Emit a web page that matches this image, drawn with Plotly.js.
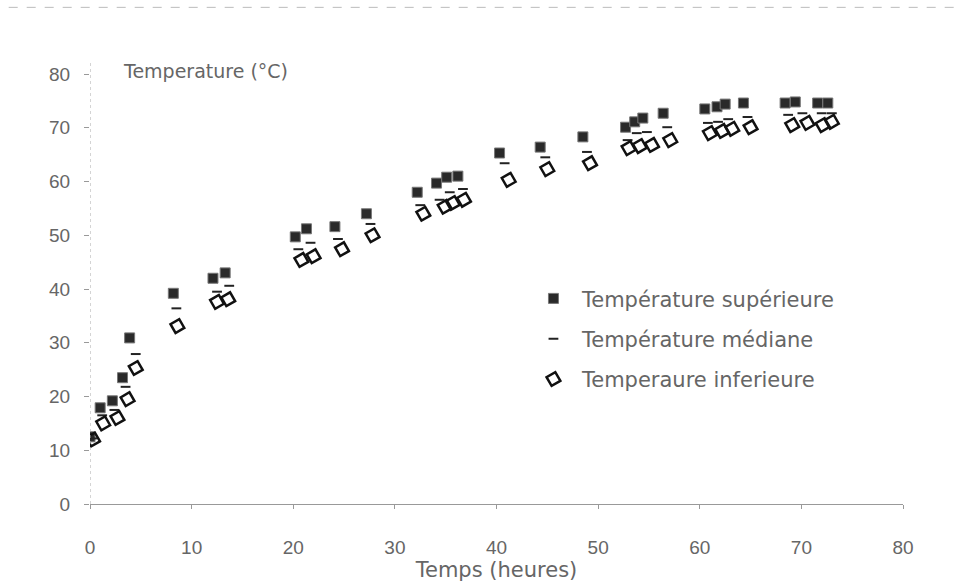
<!DOCTYPE html>
<html>
<head>
<meta charset="utf-8">
<script src="https://cdn.plot.ly/plotly-3.0.1.min.js"></script>
<style>
html,body{margin:0;padding:0;background:#fff;}
#chart{width:964px;height:585px;}
</style>
</head>
<body>
<div id="chart"></div>
<script>
// Température supérieure
const supX = [0, 1.0, 2.2, 3.2, 3.9, 8.2, 12.1, 13.3, 20.2, 21.3, 24.1, 27.2, 32.2, 34.1, 35.1, 36.2, 40.3, 44.3, 48.5, 52.7, 53.6, 54.4, 56.4, 60.5, 61.7, 62.5, 64.3, 68.4, 69.4, 71.6, 72.6];
const supY = [12.5, 17.9, 19.2, 23.5, 30.9, 39.2, 42.0, 43.0, 49.7, 51.2, 51.6, 54.0, 58.0, 59.7, 60.8, 61.0, 65.3, 66.4, 68.3, 70.1, 71.1, 71.8, 72.7, 73.5, 73.9, 74.4, 74.6, 74.6, 74.8, 74.6, 74.6];
// Température médiane
const medX = [0.2, 1.2, 2.4, 3.5, 4.5, 8.5, 12.5, 13.7, 20.5, 21.7, 24.4, 27.6, 32.5, 34.4, 35.4, 36.7, 40.8, 44.8, 48.9, 52.9, 53.8, 54.8, 56.8, 60.8, 61.8, 62.8, 64.7, 68.7, 70.1, 72.0, 73.0];
const medY = [12.2, 16.5, 17.5, 21.8, 27.9, 36.4, 39.5, 40.6, 47.4, 48.6, 49.3, 52.1, 55.6, 56.6, 58.0, 58.6, 63.4, 64.5, 65.5, 67.7, 69.0, 69.2, 70.1, 70.9, 71.1, 71.6, 72.0, 72.4, 72.7, 72.7, 72.7];
// Temperaure inferieure
const infX = [0.3, 1.3, 2.7, 3.7, 4.5, 8.6, 12.5, 13.6, 20.8, 22.0, 24.8, 27.8, 32.8, 34.9, 35.7, 36.8, 41.2, 45.0, 49.2, 53.0, 54.1, 55.3, 57.1, 61.0, 62.2, 63.2, 65.0, 69.1, 70.6, 72.1, 73.0];
const infY = [12.0, 15.0, 16.0, 19.5, 25.3, 33.1, 37.6, 38.1, 45.4, 46.1, 47.4, 50.0, 54.0, 55.3, 56.0, 56.6, 60.3, 62.3, 63.4, 66.2, 66.6, 66.8, 67.7, 69.0, 69.4, 69.8, 70.1, 70.5, 70.9, 70.5, 71.1];

const xTicks = [0, 10, 20, 30, 40, 50, 60, 70, 80];
const yTicks = [0, 10, 20, 30, 40, 50, 60, 70, 80];

const traces = [
  {x: supX, y: supY, type: 'scatter', mode: 'markers', name: 'Température supérieure', legendgroup: 'a',
   marker: {symbol: 'square', size: 10, color: '#2a2a2a', line: {width: 1, color: '#777'}}},
  {x: medX, y: medY, type: 'scatter', mode: 'markers', name: 'Température médiane', legendgroup: 'b',
   marker: {symbol: 'line-ew', size: 7, color: '#222', line: {width: 2, color: '#222'}}},
  {x: infX, y: infY, type: 'scatter', mode: 'markers', name: 'Temperaure inferieure', legendgroup: 'c',
   marker: {symbol: 'diamond-open', size: 11, angle: 15, color: '#111', line: {width: 2.5, color: '#111'}}}
];

const fontFam = 'DejaVu Sans, Liberation Sans, sans-serif';
const tickFam = 'Liberation Sans, Arial, sans-serif';
const layout = {
  width: 964, height: 585,
  margin: {l: 90, r: 61, t: 74, b: 81},
  paper_bgcolor: '#fff', plot_bgcolor: '#fff',
  font: {family: fontFam, color: '#666', size: 16},
  showlegend: true,
  legend: {x: 0.535, y: 0.525, xanchor: 'left', yanchor: 'top', bgcolor: 'rgba(0,0,0,0)',
           font: {size: 21, color: '#666', family: fontFam}, tracegroupgap: 10, itemwidth: 47},
  xaxis: {range: [0, 80], tickvals: xTicks, ticktext: xTicks.map(String), showgrid: false, zeroline: false,
          showline: true, linecolor: '#999', linewidth: 1, ticks: 'outside', ticklen: 4, tickcolor: '#999',
          ticklabelstandoff: 22, tickfont: {size: 19, color: '#666', family: tickFam},
          title: {text: 'Temps (heures)', font: {size: 21, color: '#666'}, standoff: 0}},
  yaxis: {range: [0, 80], tickvals: yTicks, ticktext: yTicks.map(String), showgrid: false, zeroline: false,
          showline: false, ticks: 'outside', ticklen: 5, tickcolor: '#999',
          ticklabelstandoff: 10, tickfont: {size: 19, color: '#666', family: tickFam}},
  shapes: [
    {type: 'line', xref: 'x', yref: 'paper', x0: 0, x1: 0, y0: 0, y1: 1.03, line: {color: '#aaa', width: 1, dash: 'dot'}},
    {type: 'line', xref: 'paper', yref: 'paper', x0: -0.1, x1: 1.07, y0: 1.155, y1: 1.155, line: {color: '#bbb', width: 1, dash: 'dash'}}
  ],
  annotations: [
    {text: 'Temperature (°C)', xref: 'paper', yref: 'paper', x: 0.038, y: 1.008, xanchor: 'left', yanchor: 'middle',
     showarrow: false, font: {size: 19, color: '#666', family: fontFam}}
  ]
};

Plotly.newPlot('chart', traces, layout, {displayModeBar: false, staticPlot: true});
</script>
</body>
</html>
